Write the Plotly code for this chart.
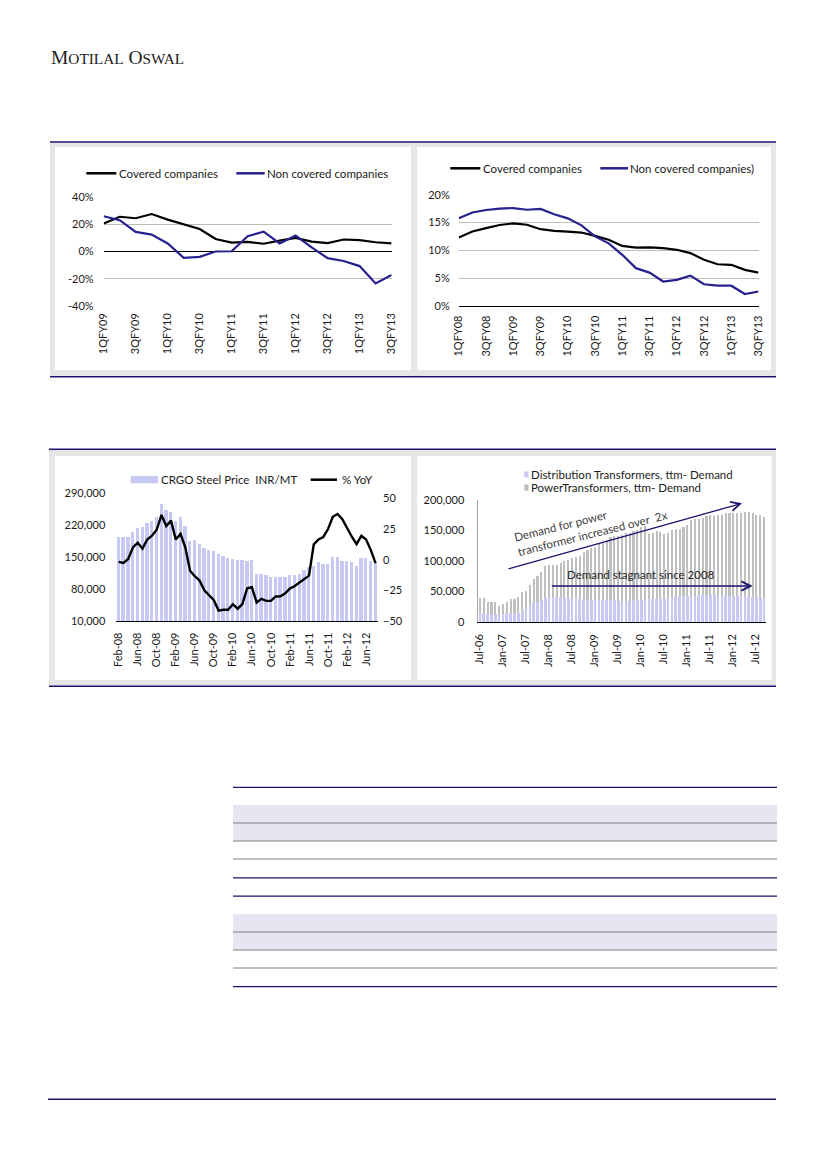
import plotly.graph_objects as go
import pandas as pd

W, H = 826, 1169
OFF = 8  # the page body adds an 8px margin around the figure


def X(px):
    return (px - OFF) / W


def Y(py):
    return 1 - (py - OFF) / H


# ---------------- data ----------------
# Chart 1: revenue growth (%)
quarters_1 = [f"{q}QFY{y:02d}" for y in range(9, 14) for q in range(1, 5)][:19]
covered_growth = [20.5, 25.5, 24.4, 27.5, 23.4, 20.0, 16.5, 9.2, 6.5, 7.0, 5.7, 8.0,
                  10.0, 7.3, 6.1, 8.8, 8.3, 6.8, 5.9]
noncovered_growth = [25.9, 23.0, 14.4, 12.4, 5.9, -4.6, -3.9, 0.0, 0.2, 11.2, 14.6, 5.9,
                     11.7, 3.0, -4.9, -7.0, -10.7, -23.4, -17.3]
growth_ticks = [-40, -20, 0, 20, 40]
growth_ticktext = ["-40%", "-20%", "0%", "20%", "40%"]

# Chart 2: margins (%)
quarters_2 = [f"{q}QFY{y:02d}" for y in range(8, 14) for q in range(1, 5)][:23]
covered_margin = [12.3, 13.4, 14.0, 14.55, 14.85, 14.6, 13.8, 13.5, 13.35, 13.2, 12.6, 11.9,
                  10.8, 10.5, 10.55, 10.4, 10.1, 9.5, 8.3, 7.5, 7.4, 6.5, 6.0]
noncovered_margin = [15.75, 16.8, 17.25, 17.5, 17.6, 17.3, 17.45, 16.5, 15.75, 14.5, 12.5, 11.25,
                     9.2, 6.8, 6.0, 4.4, 4.7, 5.45, 3.9, 3.65, 3.65, 2.15, 2.6]
margin_ticks = [0, 5, 10, 15, 20]
margin_ticktext = ["0%", "5%", "10%", "15%", "20%"]

# Chart 3: CRGO steel price
months_3 = list(pd.date_range("2008-02-01", periods=55, freq="MS").strftime("%b-%y"))
crgo_price = [193000, 193000, 193000, 204000, 213000, 216000, 224000, 228000, 238000,
              265000, 252000, 248000, 228000, 238000, 219000, 186000, 188000,
              178000, 171000, 166000, 163000, 156000, 152000, 148000, 145000, 143000,
              144000, 142000, 143000,
              113000, 113000, 110000, 107500, 107500, 107500, 107500, 112000, 112000, 113000,
              123000, 128000, 131000, 139000, 134000, 136000, 151000, 151000, 142000,
              142000, 139000, 131000, 148000, 148000, 142000, 135000]
crgo_yoy = [-1.8, -2.6, 0.5, 10, 13.8, 9, 16.5, 19.5, 24.5, 36.5,
            27.5, 31.8, 16.5, 21, 10, -9, -13.5, -17, -25, -29,
            -33, -41.5, -40.8, -40.8, -36.3, -40, -36.2, -23.4, -22.5, -35,
            -32, -33.6, -33.6, -30, -29.8, -27.5, -23.5, -21.5, -18.5, -15.4,
            -13, 12.5, 16.5, 18.5, 25, 35, 37.2, 33, 25.5, 18.7,
            12.7, 19.5, 16.5, 7.8, -3]

# Chart 4: transformer demand (ttm)
months_4 = list(pd.date_range("2006-07-01", periods=75, freq="MS").strftime("%b-%y"))
power_tx = [39, 39, 33, 33, 32, 25, 29, 33, 37, 37,
            41, 48, 51, 60, 71, 75, 82, 91.5, 93, 93,
            94, 97, 100, 102, 104, 107, 108.5, 115, 118, 120.5,
            123, 128, 130, 135, 138.6, 141, 141, 142.5, 145, 146,
            149, 150.7, 155, 157, 144, 146, 149, 148, 144, 145,
            150.7, 152, 153, 155, 159, 167, 168, 168, 170, 174,
            175, 174, 175, 175, 178, 178, 179, 178, 179, 180,
            180, 178, 175, 175, 172.6]
dist_tx = [14, 14, 12.5, 12.5, 12.5, 9, 13, 14, 14.5, 14.5,
           15, 18, 22, 27, 31, 33, 35, 39, 40, 40,
           40, 40, 39, 39, 38, 37, 37, 36, 36, 36,
           36, 35.5, 35.5, 35, 35, 35, 34.5, 34.5, 34.5, 34.5,
           35, 35, 36, 36, 37, 37, 38, 38, 38, 39,
           40, 41, 42, 42, 43, 43, 43, 44, 44, 44,
           44, 44, 44, 43.5, 43, 43, 43, 42, 42, 42,
           41, 41, 40, 39.5, 39]
power_tx = [v * 1000 for v in power_tx]
dist_tx = [v * 1000 for v in dist_tx]

# ---------------- styles ----------------
NAVY = "#1b1470"
BLUE = "#27208f"
LAV = "#c8c8f4"
GREY_BAR = "#bfbfbf"
PANEL = "#e6e6e6"
FONT = "Lato, Roboto, sans-serif"
TXT = "#1a1a1a"
tickfont = dict(family=FONT, size=11, color=TXT)

fig = go.Figure()

# Chart 1
fig.add_trace(go.Scatter(x=quarters_1, y=covered_growth, mode="lines",
                         line=dict(color="black", width=2.2), xaxis="x", yaxis="y",
                         name="Covered companies", showlegend=False))
fig.add_trace(go.Scatter(x=quarters_1, y=noncovered_growth, mode="lines",
                         line=dict(color=BLUE, width=2.2), xaxis="x", yaxis="y",
                         name="Non covered companies", showlegend=False))
# Chart 2
fig.add_trace(go.Scatter(x=quarters_2, y=covered_margin, mode="lines",
                         line=dict(color="black", width=2.2), xaxis="x2", yaxis="y2",
                         name="Covered companies", showlegend=False))
fig.add_trace(go.Scatter(x=quarters_2, y=noncovered_margin, mode="lines",
                         line=dict(color=BLUE, width=2.2), xaxis="x2", yaxis="y2",
                         name="Non covered companies)", showlegend=False))
# Chart 3
fig.add_trace(go.Bar(x=months_3, y=crgo_price, marker=dict(color=LAV, line=dict(width=0)),
                     width=0.7, xaxis="x3", yaxis="y3", name="CRGO Steel Price  INR/MT",
                     showlegend=False))
fig.add_trace(go.Scatter(x=months_3, y=crgo_yoy, mode="lines",
                         line=dict(color="black", width=2.4), xaxis="x3", yaxis="y4",
                         name="% YoY", showlegend=False))
# Chart 4
fig.add_trace(go.Bar(x=months_4, y=power_tx, marker=dict(color=GREY_BAR, line=dict(width=0)),
                     width=0.55, xaxis="x4", yaxis="y5",
                     name="PowerTransformers, ttm- Demand", showlegend=False))
fig.add_trace(go.Bar(x=months_4, y=dist_tx, marker=dict(color=LAV, line=dict(width=0)),
                     width=0.7, xaxis="x4", yaxis="y5",
                     name="Distribution Transformers, ttm- Demand", showlegend=False))

common_x = dict(type="category", tickangle=-90, tickfont=tickfont, showgrid=False,
                zeroline=False, ticks="", fixedrange=True, automargin=False)
common_y = dict(tickfont=tickfont, ticks="", automargin=False, fixedrange=True)

fig.update_layout(
    width=W, height=H, margin=dict(l=0, r=0, t=0, b=0, pad=0, autoexpand=False),
    autosize=False,
    paper_bgcolor="white", plot_bgcolor="rgba(0,0,0,0)",
    barmode="overlay", bargap=0, showlegend=False,
    xaxis=dict(common_x, domain=[X(103.7), X(391.6)], anchor="y",
               tickvals=quarters_1[::2], ticklabelstandoff=4),
    yaxis=dict(common_y, domain=[Y(306), Y(197)], range=[-40, 40], tickvals=growth_ticks,
               ticktext=growth_ticktext, showgrid=True, gridcolor="#bdbdbd",
               gridwidth=1, zeroline=True, zerolinecolor="black", zerolinewidth=1.2,
               anchor="x", ticklabelstandoff=9),
    xaxis2=dict(common_x, domain=[X(458.8), X(758.5)], anchor="y2",
                tickvals=quarters_2[::2], showline=True, linecolor="black", linewidth=1.2,
                ticklabelstandoff=4),
    yaxis2=dict(common_y, domain=[Y(306), Y(194.7)], range=[0, 20], tickvals=margin_ticks,
                ticktext=margin_ticktext, showgrid=True, gridcolor="#bdbdbd",
                zeroline=False, anchor="x2", ticklabelstandoff=8),
    xaxis3=dict(common_x, domain=[X(116.3), X(378)], anchor="y3",
                tickvals=months_3[::4], showline=True, linecolor="black", linewidth=1.2,
                ticklabelstandoff=6),
    yaxis3=dict(common_y, domain=[Y(621), Y(492.7)], range=[10000, 290000],
                tickvals=[10000, 80000, 150000, 220000, 290000], tickformat=",",
                showgrid=False, zeroline=False, anchor="x3", ticklabelstandoff=10),
    yaxis4=dict(common_y, domain=[Y(621), Y(492.7)], range=[-50, 54.6], overlaying="y3",
                side="right", tickvals=[-50, -25, 0, 25, 50], showgrid=False,
                zeroline=False, anchor="x3", ticklabelstandoff=4),
    xaxis4=dict(common_x, domain=[X(477.5), X(765.5)], anchor="y5",
                tickvals=months_4[::6], showline=True, linecolor="black", linewidth=1.2,
                ticklabelstandoff=7),
    yaxis5=dict(common_y, domain=[Y(621.7), Y(500)], range=[0, 200000],
                tickvals=[0, 50000, 100000, 150000, 200000], tickformat=",",
                showgrid=False, zeroline=False, anchor="x4",
                showline=True, linecolor="#a6a6a6", linewidth=1, ticklabelstandoff=10),
)

shapes = []


def rect(x0, y0, x1, y1, color):
    shapes.append(dict(type="rect", xref="paper", yref="paper", x0=X(x0), x1=X(x1),
                       y0=Y(y1), y1=Y(y0), fillcolor=color, line=dict(width=0),
                       layer="below"))


def hline(x0, x1, y, color, width):
    shapes.append(dict(type="line", xref="paper", yref="paper", x0=X(x0), x1=X(x1),
                       y0=Y(y), y1=Y(y), line=dict(color=color, width=width)))


# chart panels
rect(50, 142.5, 776, 376.2, PANEL)
rect(55, 147, 411, 370, "white")
rect(417, 147, 771, 370, "white")
hline(50, 776, 142, NAVY, 1.5)
hline(50, 776, 376.8, NAVY, 1.5)

rect(49, 450, 776, 685.5, PANEL)
rect(55, 456, 411, 680, "white")
rect(417, 456, 771.5, 680, "white")
hline(49, 776, 449.3, NAVY, 1.5)
hline(49, 776, 686.2, NAVY, 1.5)

# table scaffolding
rect(233, 805, 777, 841, "#e6e6f2")
rect(233, 914, 777, 950, "#e6e6f2")
for yy in (823, 841, 859, 932, 950, 968):
    hline(233, 777, yy, "#808080", 1)
for yy in (787.3, 877.8, 896.2, 986.6):
    hline(233, 777, yy, NAVY, 1.3)

# footer rule
hline(48, 776, 1099.3, NAVY, 1.5)

# manual legend glyphs
hline(86.3, 116.3, 173.3, "black", 2.5)
hline(236.3, 264.7, 173.3, BLUE, 2.5)
hline(450.3, 480.3, 168.3, "black", 2.5)
hline(600.3, 628.0, 168.3, BLUE, 2.5)
shapes.append(dict(type="rect", xref="paper", yref="paper", x0=X(130.7), x1=X(158),
                   y0=Y(483.3), y1=Y(476), fillcolor=LAV, line=dict(width=0)))
hline(310.7, 337, 479.7, "black", 2.5)
shapes.append(dict(type="rect", xref="paper", yref="paper", x0=X(524.3), x1=X(528.5),
                   y0=Y(477.5), y1=Y(471.5), fillcolor=LAV, line=dict(width=0)))
shapes.append(dict(type="rect", xref="paper", yref="paper", x0=X(524.3), x1=X(528.5),
                   y0=Y(490.7), y1=Y(484.5), fillcolor=GREY_BAR, line=dict(width=0)))

fig.update_layout(shapes=shapes)

ann = []


def label(x, y, text, size=11, color=TXT, xanchor="left", family=FONT, **kw):
    ann.append(dict(xref="paper", yref="paper", x=X(x), y=Y(y), text=text, showarrow=False,
                    xanchor=xanchor, yanchor="middle",
                    font=dict(family=family, size=size, color=color), **kw))


# header
label(48.5, 57.0,
      'M<span style="font-size:15.3px">OTILAL</span> O<span style="font-size:15.3px">SWAL</span>',
      size=19.5, color="#222222", family="Liberation Serif, DejaVu Serif, serif")

# legends
label(116.5, 173.3, "Covered companies", size=11.5)
label(264.8, 173.3, "Non covered companies", size=11.5)
label(480.5, 168.3, "Covered companies", size=11.5)
label(628.2, 168.3, "Non covered companies)", size=11.5)
label(158.5, 479.7, "CRGO Steel Price  INR/MT", size=11.5)
label(339.5, 479.7, "% YoY", size=11.5)
label(528.6, 474.3, "Distribution Transformers, ttm- Demand", size=11.5)
label(528.6, 487.8, "PowerTransformers, ttm- Demand", size=11.5)

# chart 4 callouts
label(590.6, 526.4, "Demand for power<br>transformer increased over  2x", size=11.5,
      color="#404040", xanchor="center", textangle=-14, align="left")
label(641, 574.3, "Demand stagnant since 2008", size=11.5, color="#262626", xanchor="center")

ann.append(dict(xref="paper", yref="paper", x=X(742), y=Y(503.3), ax=-235, ay=66,
                text="", showarrow=True, arrowhead=5, arrowsize=1.4, arrowwidth=1.3,
                arrowcolor=NAVY))
ann.append(dict(xref="paper", yref="paper", x=X(752.7), y=Y(586), ax=-202.4, ay=0,
                text="", showarrow=True, arrowhead=5, arrowsize=1.4, arrowwidth=1.3,
                arrowcolor=NAVY))

fig.update_layout(annotations=ann)

fig.write_html("out.html")
